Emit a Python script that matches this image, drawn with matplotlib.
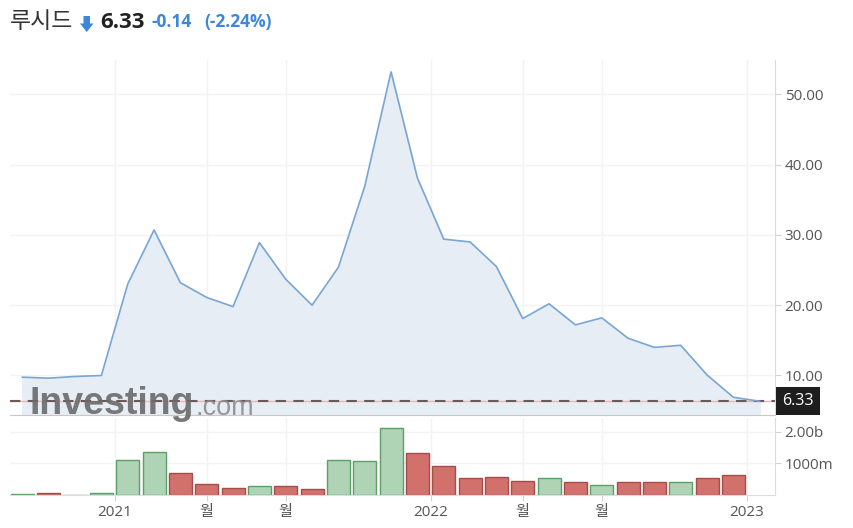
import matplotlib
matplotlib.use("Agg")
import matplotlib.pyplot as plt
from matplotlib.patches import Polygon
import numpy as np

plt.rcParams["font.family"] = ["Open Sans", "Noto Sans CJK KR", "DejaVu Sans"]

# monthly closes, Sep 2020 .. Jan 2023
price = [9.76, 9.62, 9.86, 10.0, 23.0, 30.7, 23.2, 21.1, 19.8, 28.9,
         23.7, 20.0, 25.4, 36.9, 53.2, 38.1, 29.4, 29.0, 25.5, 18.1,
         20.2, 17.2, 18.2, 15.3, 14.0, 14.3, 10.07, 6.9, 6.33]
# monthly volume in billions, Sep 2020 .. Dec 2022
volume = [0.02, 0.05, 0.01, 0.06, 1.11, 1.37, 0.70, 0.35, 0.22, 0.27,
          0.27, 0.19, 1.11, 1.08, 2.11, 1.33, 0.92, 0.54, 0.57, 0.44,
          0.54, 0.41, 0.32, 0.41, 0.41, 0.41, 0.54, 0.63]
tick_pos = [3.5, 7, 10, 15.5, 19, 22, 27.5]
tick_labels = ["2021", "월", "월", "2022", "월", "월", "2023"]
price_ticks = [10, 20, 30, 40, 50]
vol_ticks = [1.0, 2.0]
vol_tick_labels = ["1000m", "2.00b"]
last_price = 6.33

W, H = 854, 528
fig = plt.figure(figsize=(W / 100, H / 100), dpi=100)
fig.patch.set_facecolor("white")


def box(left, top, right, bottom):
    return [left / W, 1 - bottom / H, (right - left) / W, (bottom - top) / H]


ax = fig.add_axes(box(10, 60, 775, 415))
axv = fig.add_axes(box(10, 418, 775, 495), sharex=ax)

x = np.arange(len(price))
line_c = "#79a6d3"
ax.fill_between(x, price, 0, color="#e7edf5", zorder=1)
ax.plot(x, price, color=line_c, lw=1.2, zorder=3)
ax.axhline(last_price, color="#f0b4b4", lw=1.0, zorder=2)
ax.axhline(last_price, color="#6b5a5a", lw=1.5, ls=(0, (5, 3.5)), zorder=2)

ax.set_xlim(-0.47, 28.58)
ax.set_ylim(4.38, 54.88)

for a in (ax, axv):
    a.set_facecolor("white")
    for s in ("top", "left"):
        a.spines[s].set_visible(False)
    a.spines["right"].set_color("#d8dbe6")
    a.yaxis.tick_right()
    a.set_xticks(tick_pos)
    a.grid(True, color="#f3f3f3", lw=1.0, zorder=0)
    a.set_axisbelow(True)
    a.tick_params(axis="y", colors="#d0d3dd", labelcolor="#555555",
                  labelsize=11, length=4, pad=3)
    a.tick_params(axis="x", colors="#d0d3dd", labelcolor="#555555",
                  labelsize=11, length=4, pad=3)

ax.spines["bottom"].set_color("#c8c8c8")
ax.set_yticks(price_ticks)
ax.set_yticklabels([f"{p:.2f}" for p in price_ticks])
ax.tick_params(axis="x", labelbottom=False, length=0)

# volume bars coloured by month-on-month change
colors, edges = [], []
for i in range(len(volume)):
    up = i == 0 or price[i] >= price[i - 1]
    colors.append("#aed4b5" if up else "#d2716b")
    edges.append("#5f9e68" if up else "#a44d48")
axv.bar(x[:len(volume)], volume, width=0.87, color=colors,
        edgecolor=edges, lw=1.0, zorder=2)
axv.set_ylim(0, 2.44)
axv.set_yticks(vol_ticks)
axv.set_yticklabels(vol_tick_labels)
axv.spines["bottom"].set_color("#dcdce8")
axv.set_xticklabels(tick_labels)

# last price marker on the right axis
ax.text(1 + 7 / 765, (last_price - 4.38) / (54.88 - 4.38), f"{last_price:.2f}",
        transform=ax.transAxes, ha="left", va="center", fontsize=11.5,
        color="white", zorder=10,
        bbox=dict(boxstyle="square,pad=0.38", fc="#1e1e1e", ec="none"),
        clip_on=False)

# header
fig.text(10 / W, 1 - 22 / H, "루시드", fontsize=16.5, color="#333333",
         family=["Noto Sans CJK KR", "DejaVu Sans"], va="center")
arrow_px = [(83.5, 16), (90, 16), (90, 23.5), (93.5, 23.5), (86.75, 32),
            (80, 23.5), (83.5, 23.5)]
fig.patches.append(Polygon([(px / W, 1 - py / H) for px, py in arrow_px],
                           closed=True, fc="#3d86db", ec="none",
                           transform=fig.transFigure, figure=fig))
fig.text(100 / W, 1 - 22 / H, "6.33", fontsize=16, color="#222222",
         fontweight="bold", va="center")
fig.text(152 / W, 1 - 22 / H, "-0.14", fontsize=12.5, color="#3d86db",
         fontweight="bold", va="center")
fig.text(204 / W, 1 - 22 / H, "(-2.24%)", fontsize=12.5, color="#3d86db",
         fontweight="bold", va="center")

# watermark
fig.text(29 / W, 1 - 404 / H, "Investing", fontsize=27, color="#6a6a6a",
         fontweight="bold", family=["Liberation Sans"], va="center",
         alpha=0.9, zorder=20)
fig.text(196 / W, 1 - 408 / H, ".com", fontsize=19.5, color="#8e8e8e",
         family=["Liberation Sans"], va="center", alpha=0.9, zorder=20)

fig.savefig("out.png", dpi=100, facecolor="white")
